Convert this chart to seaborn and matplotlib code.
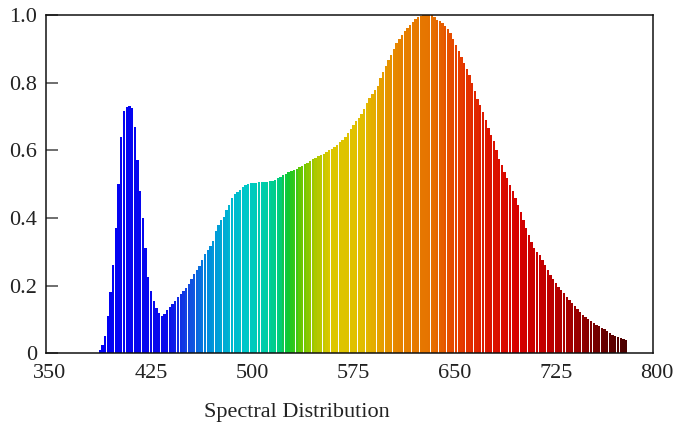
import numpy as np
import pandas as pd
import matplotlib
matplotlib.use("Agg")
import matplotlib.pyplot as plt
import matplotlib.transforms as mtransforms
from matplotlib.colors import LinearSegmentedColormap, to_hex
import seaborn as sns

# wavelength (nm), 2 nm steps from 390 to 780
wavelength = np.arange(390, 782, 2)

# relative intensity
intensity = [
    0.010, 0.025, 0.050, 0.110, 0.180, 0.260, 0.370, 0.500, 0.640, 0.715,  # 390-408
    0.728, 0.730, 0.725, 0.670, 0.570, 0.480, 0.400, 0.310, 0.225, 0.185,  # 410-428
    0.155, 0.135, 0.118, 0.110, 0.115, 0.127, 0.137, 0.146, 0.155, 0.165,  # 430-448
    0.174, 0.184, 0.194, 0.205, 0.220, 0.233, 0.246, 0.259, 0.275, 0.292,  # 450-468
    0.305, 0.318, 0.333, 0.360, 0.380, 0.395, 0.404, 0.422, 0.438, 0.460,  # 470-488
    0.470, 0.477, 0.483, 0.490, 0.497, 0.500, 0.502, 0.503, 0.504, 0.505,  # 490-508
    0.505, 0.506, 0.507, 0.508, 0.510, 0.513, 0.517, 0.521, 0.526, 0.531,  # 510-528
    0.535, 0.538, 0.541, 0.544, 0.549, 0.554, 0.559, 0.563, 0.568, 0.573,  # 530-548
    0.578, 0.582, 0.586, 0.590, 0.595, 0.600, 0.605, 0.610, 0.616, 0.623,  # 550-568
    0.630, 0.640, 0.651, 0.662, 0.673, 0.685, 0.695, 0.708, 0.723, 0.740,  # 570-588
    0.755, 0.766, 0.778, 0.790, 0.812, 0.830, 0.848, 0.866, 0.882, 0.900,  # 590-608
    0.916, 0.928, 0.940, 0.951, 0.961, 0.970, 0.979, 0.987, 0.993, 0.997,  # 610-628
    1.000, 1.000, 1.000, 0.999, 0.993, 0.985, 0.981, 0.977, 0.968, 0.957,  # 630-648
    0.945, 0.929, 0.910, 0.893, 0.875, 0.857, 0.840, 0.822, 0.800, 0.775,  # 650-668
    0.752, 0.733, 0.714, 0.688, 0.665, 0.645, 0.627, 0.600, 0.573, 0.555,  # 670-688
    0.535, 0.517, 0.497, 0.478, 0.458, 0.438, 0.418, 0.393, 0.369, 0.348,  # 690-708
    0.328, 0.312, 0.300, 0.290, 0.275, 0.260, 0.246, 0.232, 0.218, 0.208,  # 710-728
    0.197, 0.188, 0.177, 0.167, 0.157, 0.147, 0.139, 0.130, 0.121, 0.114,  # 730-748
    0.107, 0.101, 0.095, 0.089, 0.084, 0.079, 0.074, 0.070, 0.065, 0.060,  # 750-768
    0.055, 0.052, 0.049, 0.046, 0.042, 0.038,                              # 770-780
]

x_ticks = [350, 425, 500, 575, 650, 725, 800]
y_ticks = [0, 0.2, 0.4, 0.6, 0.8, 1.0]
y_tick_labels = ["0", "0.2", "0.4", "0.6", "0.8", "1.0"]

# colour of the light at each wavelength (anchors)
color_stops = [
    (390, (0, 0, 245)), (440, (10, 10, 235)), (455, (20, 70, 225)),
    (470, (0, 140, 220)), (485, (0, 180, 210)), (498, (0, 200, 200)),
    (512, (0, 205, 170)), (522, (0, 205, 130)), (530, (20, 200, 40)),
    (540, (110, 200, 0)), (550, (170, 200, 0)), (560, (220, 200, 0)),
    (585, (225, 190, 0)), (598, (230, 160, 0)), (612, (230, 130, 0)),
    (635, (230, 115, 0)), (657, (230, 60, 0)), (679, (220, 20, 0)),
    (700, (215, 0, 0)), (724, (190, 0, 0)), (746, (150, 0, 0)),
    (761, (110, 0, 0)), (780, (75, 0, 0)),
]
lo, hi = color_stops[0][0], color_stops[-1][0]
spectrum = LinearSegmentedColormap.from_list(
    "spectrum",
    [((w - lo) / (hi - lo), tuple(c / 255 for c in rgb)) for w, rgb in color_stops],
)
palette = {w: to_hex(spectrum((w - lo) / (hi - lo))) for w in wavelength}

df = pd.DataFrame({"wavelength": wavelength, "intensity": intensity})

sns.set_style("ticks")
plt.rcParams["font.family"] = ["Liberation Serif", "DejaVu Serif"]
plt.rcParams["font.size"] = 16

fig = plt.figure(figsize=(6.74, 4.25), dpi=100)
ax = fig.add_axes([0.0678, 0.169, 0.9012, 0.796])

sns.barplot(
    data=df,
    x="wavelength",
    y="intensity",
    hue="wavelength",
    palette=palette,
    saturation=1,
    native_scale=True,
    legend=False,
    errorbar=None,
    linewidth=0,
    width=0.86,
    ax=ax,
)

ax.set_xlim(350, 800)
ax.set_ylim(0, 1.0)
ax.set_xticks(x_ticks)
ax.set_xticklabels([str(t) for t in x_ticks])
ax.set_yticks(y_ticks)
ax.set_yticklabels(y_tick_labels)
ax.set_ylabel("")

ax.tick_params(axis="x", length=0, pad=8, labelsize=16, colors="#222222")
ax.tick_params(axis="y", direction="in", length=8.5, width=1.2, color="#555555",
               pad=6, labelsize=16, labelcolor="#222222")

# tick labels in the reference sit a few pixels right of their ticks
shift = mtransforms.ScaledTranslation(4 / 100, 0, fig.dpi_scale_trans)
for lbl in ax.get_xticklabels():
    lbl.set_transform(lbl.get_transform() + shift)

for side in ["top", "right", "left", "bottom"]:
    ax.spines[side].set_visible(True)
    ax.spines[side].set_color("#111111")
    ax.spines[side].set_linewidth(1.1)

ax.set_xlabel("Spectral Distribution", fontsize=16, color="#222222")
ax.xaxis.set_label_coords(0.414, -0.174)
ax.xaxis.label.set_va("center")

fig.savefig("out.png", dpi=100)
